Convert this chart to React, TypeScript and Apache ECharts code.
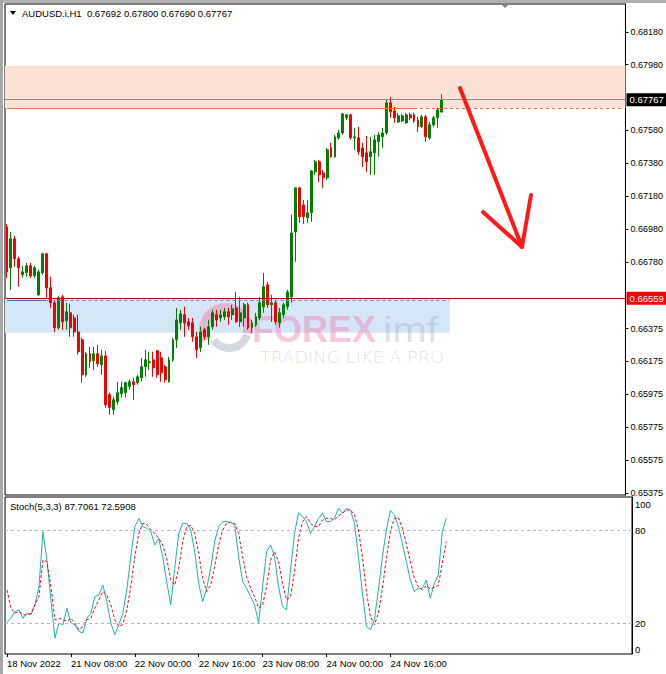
import React, { useEffect, useRef } from 'react';
import * as echarts from 'echarts';

// ---------- data ----------
const symbolTitle = 'AUDUSD.i,H1  0.67692 0.67800 0.67690 0.67767';
const stochTitle = 'Stoch(5,3,3) 87.7061 72.5908';

const timeLabels = ['18 Nov 2022', '21 Nov 08:00', '22 Nov 00:00', '22 Nov 16:00', '23 Nov 08:00', '24 Nov 00:00', '24 Nov 16:00'];
const barsPerLabel = 16;
const slotCount = 157;
const slots = Array.from({ length: slotCount }, (_, i) => String(i));

const priceTicks = [0.6818, 0.6798, 0.6758, 0.6738, 0.6718, 0.6698, 0.6678, 0.66375, 0.66175, 0.65975, 0.65775, 0.65575, 0.65375];
const priceMin = 0.65363;
const priceMax = 0.68349;
const stochTicks = [0, 20, 80, 100];
const stochLevels = [80, 20];

const currentPrice = 0.67767;
const supportLine = 0.66559;
const blueLine = 0.66549;
const orangeLine = 0.67718;
const resistanceZone = [0.67973, 0.67718];
const supportZone = [0.66555, 0.66349];

// [open, close, low, high]
const ohlc = [
  [0.66994, 0.66720, 0.66684, 0.67012], [0.66745, 0.66921, 0.66611, 0.66963], [0.66921, 0.66799, 0.66751, 0.66939],
  [0.66799, 0.66745, 0.66629, 0.66812], [0.66702, 0.66720, 0.66684, 0.66757], [0.66714, 0.66757, 0.66690, 0.66775],
  [0.66757, 0.66696, 0.66684, 0.66775], [0.66696, 0.66745, 0.66684, 0.66757], [0.66580, 0.66720, 0.66574, 0.66733],
  [0.66714, 0.66830, 0.66702, 0.66836], [0.66830, 0.66623, 0.66562, 0.66836], [0.66623, 0.66532, 0.66501, 0.66690],
  [0.66532, 0.66380, 0.66355, 0.66550], [0.66380, 0.66562, 0.66368, 0.66574], [0.66568, 0.66416, 0.66368, 0.66580],
  [0.66422, 0.66477, 0.66368, 0.66532], [0.66471, 0.66380, 0.66325, 0.66526], [0.66440, 0.66355, 0.66325, 0.66459],
  [0.66355, 0.66234, 0.66216, 0.66459], [0.66307, 0.66094, 0.66046, 0.66319], [0.66094, 0.66222, 0.66082, 0.66234],
  [0.66222, 0.66173, 0.66137, 0.66264], [0.66179, 0.66222, 0.66124, 0.66264], [0.66222, 0.66161, 0.66143, 0.66276],
  [0.66155, 0.66209, 0.66094, 0.66246], [0.66209, 0.65912, 0.65894, 0.66240], [0.65973, 0.65894, 0.65851, 0.65985],
  [0.65882, 0.65942, 0.65851, 0.65961], [0.65930, 0.65985, 0.65912, 0.66052], [0.65979, 0.66016, 0.65955, 0.66052],
  [0.65985, 0.66046, 0.65955, 0.66052], [0.66024, 0.66052, 0.66004, 0.66064], [0.66052, 0.66034, 0.65942, 0.66076],
  [0.66046, 0.66082, 0.66034, 0.66094], [0.66076, 0.66143, 0.66052, 0.66197], [0.66143, 0.66185, 0.66082, 0.66246],
  [0.66167, 0.66173, 0.66124, 0.66234], [0.66185, 0.66137, 0.66082, 0.66234], [0.66240, 0.66094, 0.66076, 0.66246],
  [0.66197, 0.66106, 0.66052, 0.66234], [0.66143, 0.66064, 0.66046, 0.66155], [0.66052, 0.66185, 0.66046, 0.66203],
  [0.66185, 0.66307, 0.66173, 0.66319], [0.66307, 0.66428, 0.66258, 0.66501], [0.66410, 0.66465, 0.66368, 0.66489],
  [0.66459, 0.66410, 0.66325, 0.66508], [0.66416, 0.66392, 0.66368, 0.66440], [0.66410, 0.66325, 0.66294, 0.66440],
  [0.66325, 0.66246, 0.66197, 0.66355], [0.66258, 0.66355, 0.66234, 0.66386], [0.66368, 0.66325, 0.66307, 0.66380],
  [0.66325, 0.66386, 0.66276, 0.66428], [0.66386, 0.66471, 0.66368, 0.66489], [0.66459, 0.66428, 0.66386, 0.66489],
  [0.66440, 0.66459, 0.66416, 0.66489], [0.66447, 0.66477, 0.66428, 0.66501], [0.66477, 0.66447, 0.66398, 0.66501],
  [0.66459, 0.66495, 0.66428, 0.66520], [0.66501, 0.66416, 0.66410, 0.66598], [0.66416, 0.66471, 0.66386, 0.66568],
  [0.66440, 0.66520, 0.66386, 0.66532], [0.66520, 0.66380, 0.66368, 0.66532], [0.66380, 0.66410, 0.66349, 0.66428],
  [0.66398, 0.66447, 0.66386, 0.66471], [0.66440, 0.66532, 0.66428, 0.66568], [0.66508, 0.66629, 0.66471, 0.66714],
  [0.66641, 0.66520, 0.66501, 0.66659], [0.66520, 0.66532, 0.66416, 0.66580], [0.66532, 0.66416, 0.66398, 0.66550],
  [0.66410, 0.66471, 0.66380, 0.66501], [0.66459, 0.66520, 0.66440, 0.66532], [0.66508, 0.66598, 0.66489, 0.66611],
  [0.66568, 0.66957, 0.66532, 0.67067], [0.66963, 0.67231, 0.66781, 0.67231], [0.67231, 0.67055, 0.67018, 0.67237],
  [0.67127, 0.67055, 0.67012, 0.67158], [0.67049, 0.67079, 0.67018, 0.67158], [0.67079, 0.67334, 0.67024, 0.67340],
  [0.67328, 0.67389, 0.67310, 0.67401], [0.67389, 0.67310, 0.67267, 0.67401], [0.67322, 0.67292, 0.67231, 0.67340],
  [0.67292, 0.67462, 0.67279, 0.67474], [0.67474, 0.67420, 0.67414, 0.67505], [0.67420, 0.67541, 0.67414, 0.67553],
  [0.67535, 0.67565, 0.67523, 0.67584], [0.67565, 0.67681, 0.67553, 0.67687], [0.67657, 0.67675, 0.67644, 0.67681],
  [0.67675, 0.67535, 0.67523, 0.67681], [0.67535, 0.67541, 0.67462, 0.67596], [0.67535, 0.67450, 0.67432, 0.67602],
  [0.67474, 0.67420, 0.67359, 0.67505], [0.67444, 0.67389, 0.67328, 0.67547], [0.67420, 0.67450, 0.67310, 0.67541],
  [0.67444, 0.67523, 0.67310, 0.67553], [0.67511, 0.67553, 0.67420, 0.67571], [0.67541, 0.67565, 0.67474, 0.67596],
  [0.67565, 0.67748, 0.67553, 0.67766], [0.67748, 0.67693, 0.67657, 0.67784], [0.67699, 0.67657, 0.67626, 0.67723],
  [0.67632, 0.67669, 0.67626, 0.67687], [0.67638, 0.67669, 0.67632, 0.67681], [0.67626, 0.67675, 0.67620, 0.67687],
  [0.67675, 0.67657, 0.67644, 0.67687], [0.67675, 0.67638, 0.67626, 0.67687], [0.67644, 0.67602, 0.67571, 0.67663],
  [0.67602, 0.67663, 0.67596, 0.67675], [0.67663, 0.67541, 0.67511, 0.67675], [0.67535, 0.67614, 0.67523, 0.67632],
  [0.67614, 0.67657, 0.67602, 0.67669], [0.67657, 0.67705, 0.67596, 0.67717], [0.67692, 0.67767, 0.67690, 0.67800],
];

const stochK = [
  20.4, 23.1, 27.4, 28.5, 23.1, 26.3, 25.3, 31.7, 43.4, 78.9,
  60.6, 34.9, 10.3, 20.0, 18.9, 29.6, 20.0, 18.9, 14.6, 13.5,
  23.1, 26.3, 37.0, 38.1, 44.5, 33.8, 20.0, 12.5, 18.9, 26.3,
  41.3, 62.8, 82.2, 87.5, 82.2, 81.1, 78.9, 70.3, 74.6, 62.8,
  46.7, 31.7, 55.3, 77.8, 84.3, 84.3, 80.0, 66.0, 45.6, 33.8,
  42.4, 55.3, 72.5, 82.2, 85.4, 85.4, 84.8, 83.5, 62.8, 46.7,
  42.4, 37.0, 31.7, 20.0, 43.4, 66.0, 70.3, 62.8, 43.4, 30.6,
  28.5, 54.2, 77.8, 91.2, 88.6, 85.4, 77.8, 82.2, 87.5, 90.8,
  85.4, 85.4, 87.5, 94.0, 90.8, 94.0, 92.9, 84.3, 62.8, 39.2,
  17.8, 15.7, 22.1, 41.3, 62.8, 80.0, 92.5, 89.7, 82.2, 71.4,
  59.6, 47.7, 40.3, 42.4, 42.4, 47.7, 36.0, 45.6, 51.0, 78.9,
  87.7061,
];

const stochD = [
  41.3, 29.6, 26.3, 27.4, 25.3, 25.3, 26.3, 31.7, 37.0, 60.6,
  59.6, 43.4, 22.1, 23.1, 22.1, 21.1, 23.1, 20.0, 15.7, 17.8,
  22.1, 23.1, 29.6, 34.9, 40.3, 38.1, 31.7, 22.1, 17.8, 19.0,
  28.5, 43.4, 62.8, 77.8, 84.3, 83.5, 80.0, 77.8, 74.6, 70.3,
  61.7, 47.7, 44.5, 55.3, 72.5, 82.2, 83.0, 77.8, 64.9, 48.8,
  40.3, 44.5, 56.4, 70.3, 80.0, 84.3, 85.0, 84.3, 77.8, 62.8,
  50.0, 42.4, 37.0, 29.6, 31.7, 43.4, 60.6, 66.0, 59.6, 45.6,
  34.9, 37.0, 53.2, 74.6, 85.4, 88.6, 84.3, 82.2, 82.2, 86.5,
  87.5, 87.5, 86.5, 89.0, 90.8, 92.9, 92.9, 90.0, 80.0, 62.8,
  40.3, 24.2, 18.9, 26.3, 42.4, 61.7, 78.9, 87.5, 88.1, 81.1,
  71.0, 59.6, 49.0, 43.4, 41.3, 44.1, 42.0, 43.1, 44.2, 58.5,
  72.5908,
];

const FONT = '"Liberation Sans", Arial, sans-serif';

const labelInterval = (index: number) => index % barsPerLabel === 0 && index / barsPerLabel < timeLabels.length;

function buildOption(): any {
  return {
    animation: false,
    backgroundColor: '#ffffff',
    textStyle: { fontFamily: FONT },
    grid: [
      { left: 5, top: 4, width: 627, height: 491, show: true, borderColor: '#000', borderWidth: 1, backgroundColor: '#fff' },
      { left: 5, top: 497, width: 627, height: 157, show: true, borderColor: '#000', borderWidth: 1, backgroundColor: '#fff' },
    ],
    xAxis: [
      { type: 'category', gridIndex: 0, data: slots, boundaryGap: true, show: false },
      {
        type: 'category', gridIndex: 1, data: slots, boundaryGap: true,
        axisLine: { show: false },
        axisTick: { show: true, interval: labelInterval, alignWithLabel: true, length: 3, lineStyle: { color: '#000' } },
        axisLabel: {
          interval: labelInterval, align: 'left', margin: 4, color: '#000', fontSize: 9.5, fontFamily: FONT,
          formatter: (v: string) => timeLabels[Number(v) / barsPerLabel] ?? '',
        },
        splitLine: { show: false },
      },
    ],
    yAxis: [
      {
        type: 'value', gridIndex: 0, position: 'right', min: priceMin, max: priceMax, scale: true,
        axisLine: { show: true, lineStyle: { color: '#000' } },
        axisTick: { show: true, length: 3, customValues: priceTicks, lineStyle: { color: '#000' } },
        axisLabel: { customValues: priceTicks, formatter: (v: number) => v.toFixed(5), color: '#000', fontSize: 9, margin: 5, fontFamily: FONT },
        splitLine: { show: false },
      },
      {
        type: 'value', gridIndex: 1, position: 'right', min: 0, max: 101.3,
        axisLine: { show: true, lineStyle: { color: '#000' } },
        axisTick: { show: false },
        axisLabel: {
          customValues: stochTicks, color: '#000', fontSize: 9.5, lineHeight: 10, margin: 3, fontFamily: FONT,
          formatter: (v: number) => (v === 100 ? '\n100' : v === 0 ? '0\n' : String(v)),
        },
        splitLine: { show: false },
      },
    ],
    series: [
      {
        type: 'candlestick', xAxisIndex: 0, yAxisIndex: 0, data: ohlc, barWidth: 2.4, z: 3,
        itemStyle: { color: '#008000', color0: '#f00000', borderColor: '#008000', borderColor0: '#f00000', borderWidth: 1 },
        markArea: {
          silent: true,
          data: [
            [{ yAxis: resistanceZone[0], itemStyle: { color: '#fbe2d6' } }, { yAxis: resistanceZone[1] }],
            [{ yAxis: supportZone[0], itemStyle: { color: '#d6e6f6' } }, { xAxis: '112', yAxis: supportZone[1] }],
          ],
        },
        markLine: {
          silent: true, symbol: ['none', 'none'], label: { show: false }, z: 4, precision: 5,
          data: [
            [{ coord: ['0', orangeLine], lineStyle: { color: '#e8743b', type: 'solid', width: 1 } }, { coord: ['103', orangeLine] }],
            [{ coord: ['103', orangeLine], lineStyle: { color: '#e8743b', type: [3, 3], width: 1 } }, { coord: ['156', orangeLine] }],
            [{ coord: ['0', blueLine], lineStyle: { color: '#3f72b8', type: 'solid', width: 1 } }, { coord: ['10', blueLine] }],
            [{ coord: ['10', blueLine], lineStyle: { color: '#6f95c8', type: [3, 3], width: 1 } }, { coord: ['112', blueLine] }],
            {
              yAxis: currentPrice, lineStyle: { color: '#8c8c8c', type: 'solid', width: 1 },
              label: { show: true, position: 'end', distance: 1, formatter: currentPrice.toFixed(5), color: '#fff', backgroundColor: '#000', padding: [2, 3, 1, 3], fontSize: 9.5, fontFamily: FONT },
            },
            {
              yAxis: supportLine, lineStyle: { color: '#c00000', type: 'solid', width: 1 },
              label: { show: true, position: 'end', distance: 1, formatter: supportLine.toFixed(5), color: '#fff', backgroundColor: '#ff0000', padding: [2, 3, 1, 3], fontSize: 9.5, fontFamily: FONT },
            },
          ],
        },
      },
      {
        type: 'line', xAxisIndex: 1, yAxisIndex: 1, data: stochK, showSymbol: false, symbol: 'none',
        lineStyle: { color: '#20b2aa', width: 1 },
        markLine: {
          silent: true, symbol: ['none', 'none'], label: { show: false },
          lineStyle: { color: '#b8b8b8', type: [3, 3], width: 1 },
          data: stochLevels.map((v) => ({ yAxis: v })),
        },
      },
      {
        type: 'line', xAxisIndex: 1, yAxisIndex: 1, data: stochD, showSymbol: false, symbol: 'none',
        lineStyle: { color: '#e0101a', width: 1, type: [3, 2] },
      },
    ],
    graphic: [
      { type: 'rect', shape: { x: 0, y: 0, width: 666, height: 3 }, style: { fill: '#b0b0b0' }, z: 50 },
      { type: 'rect', shape: { x: 0, y: 0, width: 3, height: 674 }, style: { fill: '#a8a8a8' }, z: 50 },
      { type: 'polygon', shape: { points: [[500, 3], [510, 3], [505, 8]] }, style: { fill: '#808080' }, z: 50 },
      { type: 'polygon', shape: { points: [[10, 11], [16, 11], [13, 15]] }, style: { fill: '#000' }, z: 50 },
      { type: 'text', x: 22, y: 13, style: { text: symbolTitle, font: `9.5px ${FONT}`, fill: '#000', verticalAlign: 'middle' }, z: 50 },
      { type: 'text', x: 10, y: 506, style: { text: stochTitle, font: `9.5px ${FONT}`, fill: '#000', verticalAlign: 'middle' }, z: 50 },
      // watermark
      { type: 'arc', shape: { cx: 226, cy: 330, r: 22, startAngle: Math.PI * 0.85, endAngle: Math.PI * 2.05, clockwise: true }, style: { stroke: 'rgba(242,130,175,0.5)', lineWidth: 10, fill: 'none' }, z: 2 },
      { type: 'arc', shape: { cx: 229, cy: 329, r: 19, startAngle: Math.PI * 0.1, endAngle: Math.PI * 0.8, clockwise: true }, style: { stroke: 'rgba(140,145,165,0.35)', lineWidth: 8, fill: 'none' }, z: 2 },
      { type: 'text', x: 252, y: 329, style: { text: 'FOREX', font: `bold 36px ${FONT}`, fill: 'rgba(240,120,170,0.42)', verticalAlign: 'middle' }, z: 2 },
      { type: 'text', x: 383, y: 329, scaleX: 1.15, style: { text: 'imf', font: `36px ${FONT}`, fill: 'rgba(150,160,185,0.32)', verticalAlign: 'middle' }, z: 2 },
      { type: 'text', x: 260, y: 358, scaleX: 1.18, style: { text: 'TRADING LIKE A PRO', font: `200 15px "DejaVu Sans", sans-serif`, fill: 'rgba(150,150,150,0.32)', verticalAlign: 'middle' }, z: 2 },
      // arrow
      { type: 'polyline', shape: { points: [[460, 88], [522, 247]] }, style: { stroke: '#ff1a1a', lineWidth: 4, lineCap: 'round' }, z: 20 },
      { type: 'polyline', shape: { points: [[483, 212], [522, 247], [531, 195]] }, style: { stroke: '#ff1a1a', lineWidth: 4, lineCap: 'round', lineJoin: 'round', fill: 'none' }, z: 20 },
    ],
  };
}

export default function App() {
  const ref = useRef<HTMLDivElement>(null);
  useEffect(() => {
    if (!ref.current) return;
    const chart = echarts.init(ref.current, null, { renderer: 'svg' });
    chart.setOption(buildOption());
    return () => chart.dispose();
  }, []);
  return <div ref={ref} style={{ position: 'absolute', left: 0, top: 0, width: 666, height: 674, background: '#fff' }} />;
}
